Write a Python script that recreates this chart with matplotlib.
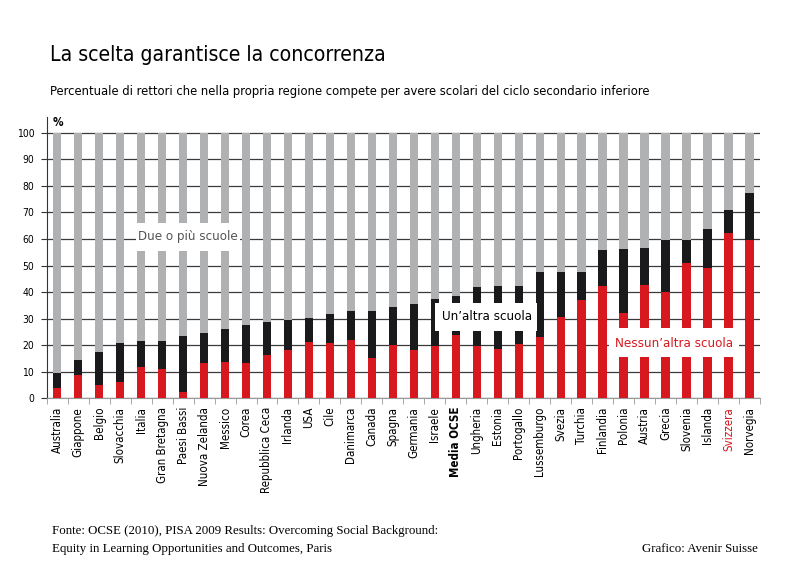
import matplotlib.pyplot as plt
from matplotlib.patches import Rectangle
import numpy as np

plt.rcParams['font.family'] = ['DejaVu Sans']
plt.rcParams['font.stretch'] = 'condensed'

# Data
countries = ['Australia', 'Giappone', 'Belgio', 'Slovacchia', 'Italia', 'Gran Bretagna',
             'Paesi Bassi', 'Nuova Zelanda', 'Messico', 'Corea', 'Repubblica Ceca', 'Irlanda',
             'USA', 'Cile', 'Danimarca', 'Canada', 'Spagna', 'Germania', 'Israele', 'Media OCSE',
             'Ungheria', 'Estonia', 'Portogallo', 'Lussemburgo', 'Svezia', 'Turchia', 'Finlandia',
             'Polonia', 'Austria', 'Grecia', 'Slovenia', 'Islanda', 'Svizzera', 'Norvegia']
# nessun'altra scuola (%)
none_other = [4.1, 9.0, 5.0, 6.1, 11.8, 11.0, 2.6, 13.2, 13.7, 13.2, 16.3, 18.1,
              21.2, 20.8, 22.1, 15.3, 20.1, 18.4, 19.6, 23.8, 19.8, 18.7, 20.5, 23.0,
              30.5, 36.9, 42.3, 32.1, 42.7, 40.0, 50.9, 49.1, 62.1, 59.8]
# cumulative: nessuna + un'altra scuola (%)
upto_one = [9.5, 14.6, 17.6, 20.7, 21.5, 21.7, 23.6, 24.7, 26.1, 27.6, 28.9, 29.4,
            30.1, 31.6, 33.1, 33.1, 34.6, 35.6, 37.4, 38.5, 41.8, 42.2, 42.5, 47.7,
            47.7, 47.7, 55.7, 56.3, 56.7, 59.5, 59.7, 63.9, 71.0, 77.4]

none_other = np.array(none_other)
upto_one = np.array(upto_one)
one_other = upto_one - none_other
two_more = 100 - upto_one

RED = '#d7191f'
BLACK = '#1a1a1c'
GREY = '#b0b1b3'

fig = plt.figure(figsize=(8, 5.78), dpi=100)
ax = fig.add_axes([0.0584, 0.3106, 0.8916, 0.4874])

x = np.arange(len(countries))
w = 0.4
ax.bar(x, none_other, w, color=RED, zorder=3)
ax.bar(x, one_other, w, bottom=none_other, color=BLACK, zorder=3)
ax.bar(x, two_more, w, bottom=upto_one, color=GREY, zorder=3)

ax.set_xlim(-0.5, len(countries) - 0.5)
ax.set_ylim(0, 106)
ax.set_yticks(range(0, 101, 10))
ax.yaxis.grid(True, color='#3a3a3a', lw=0.9, zorder=1)
ax.set_axisbelow(True)
ax.tick_params(axis='y', labelsize=7.5, length=4, color='#333333', pad=5)
ax.tick_params(axis='x', which='major', length=0, labelsize=8.3, pad=6)
ax.set_xticks(x)
ax.set_xticklabels(countries, rotation=90)
ax.set_xticks(np.arange(-0.5, len(countries), 1), minor=True)
ax.tick_params(axis='x', which='minor', length=4, color='#999999')
for lbl in ax.get_xticklabels():
    if lbl.get_text() == 'Svizzera':
        lbl.set_color(RED)
    if lbl.get_text() == 'Media OCSE':
        lbl.set_fontweight('bold')

for s in ['top', 'right']:
    ax.spines[s].set_visible(False)
ax.spines['bottom'].set_color('#999999')
ax.spines['left'].set_color('#333333')

ax.text(-0.2, 104, '%', fontsize=8.5, fontweight='bold', va='center')

# in-chart labels on white patches
ax.add_patch(Rectangle((3.75, 55.6), 4.95, 10.5, facecolor='white', edgecolor='none', zorder=4))
ax.text(6.25, 60.8, 'Due o più scuole', fontsize=9.5, color='#555555', ha='center', va='center', zorder=5)
ax.add_patch(Rectangle((18.0, 25.4), 4.85, 10.6, facecolor='white', edgecolor='none', zorder=4))
ax.text(20.5, 30.8, "Un’altra scuola", fontsize=9.5, color='black', ha='center', va='center', zorder=5)
ax.add_patch(Rectangle((26.3, 15.6), 6.2, 10.9, facecolor='white', edgecolor='none', zorder=4))
ax.text(29.4, 20.8, "Nessun’altra scuola", fontsize=9.5, color=RED, ha='center', va='center', zorder=5)

fig.text(50 / 800, 1 - 55 / 578, 'La scelta garantisce la concorrenza', fontsize=15.2,
         va='center', ha='left')
fig.text(50 / 800, 1 - 92 / 578,
         'Percentuale di rettori che nella propria regione compete per avere scolari del ciclo secondario inferiore',
         fontsize=9.3, va='center', ha='left')

serif = ['Liberation Serif', 'DejaVu Serif']
fig.text(52 / 800, 1 - 531 / 578,
         'Fonte: OCSE (2010), PISA 2009 Results: Overcoming Social Background:',
         fontsize=9.3, family=serif, stretch='normal', va='center', ha='left')
fig.text(52 / 800, 1 - 549 / 578,
         'Equity in Learning Opportunities and Outcomes, Paris',
         fontsize=9.3, family=serif, stretch='normal', va='center', ha='left')
fig.text(758 / 800, 1 - 549 / 578, 'Grafico: Avenir Suisse',
         fontsize=9.3, family=serif, stretch='normal', va='center', ha='right')

fig.savefig('out.png', dpi=100)
